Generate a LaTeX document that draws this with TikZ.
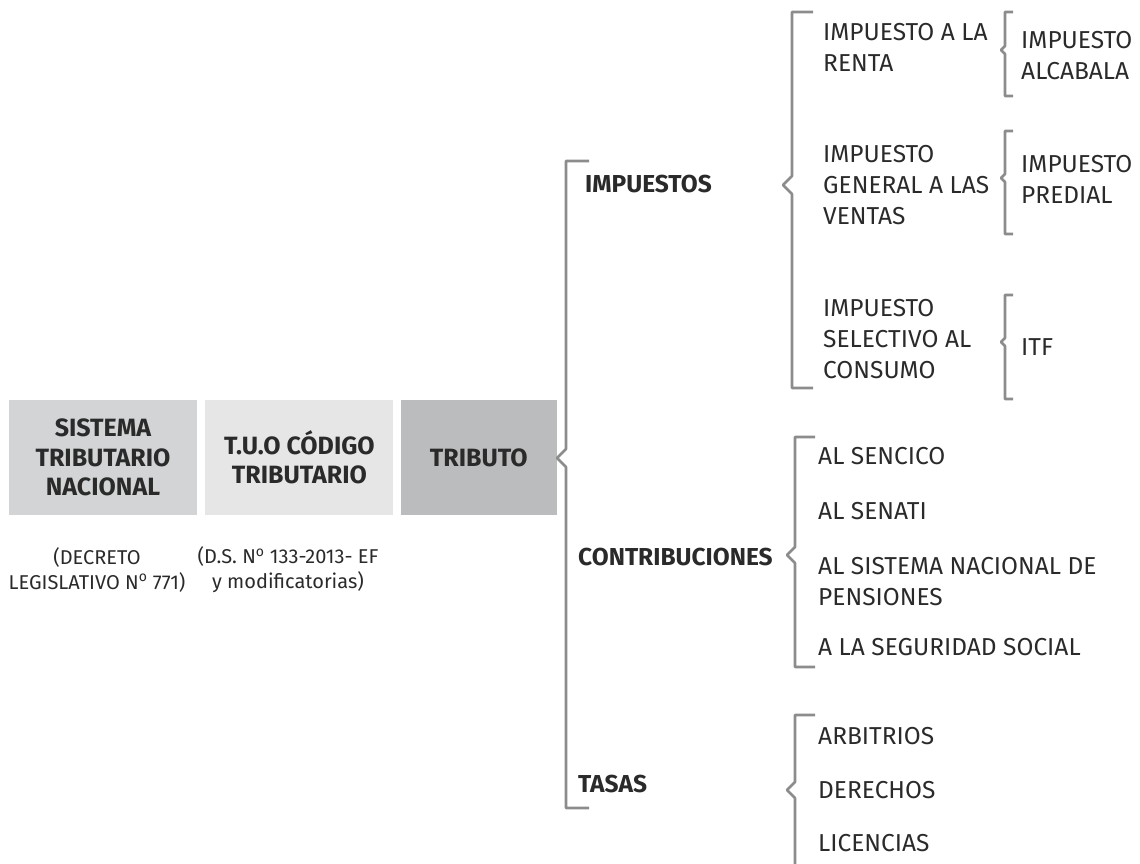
\documentclass[tikz,border=0pt]{standalone}
\usepackage{fontspec}
\setmainfont{Fira Sans}
\usetikzlibrary{positioning}
\definecolor{ink}{HTML}{2A2A2A}
\definecolor{rule}{HTML}{8C8C8C}
\definecolor{greyA}{HTML}{D3D4D6}
\definecolor{greyB}{HTML}{E6E6E7}
\definecolor{greyC}{HTML}{BBBCBE}
\tikzset{
    box/.style ={fill=#1, text=ink, minimum height=115pt, align=center, inner sep=0pt,
                 font=\bfseries\fontsize{25}{29.5}\selectfont},
    head/.style = {anchor=west, text=ink, inner sep=0pt, font=\bfseries\fontsize{24.5}{31}\selectfont},
    item/.style = {anchor=west, text=ink, inner sep=0pt, align=left, font=\fontsize{24.5}{31}\selectfont},
    note/.style = {text=ink, inner sep=0pt, align=center, font=\fontsize{20}{25}\selectfont},
    brk/.style = {draw=rule, line width=2.6pt, line join=round}
}
% x, top, bottom, notch y, tick length, notch depth
\newcommand{\bracketline}[6]{%
  \draw[brk] ({#1+#5},#2) -- (#1,#2) -- (#1,{#4-#6}) -- ({#1-#6},#4)
     -- (#1,{#4+#6}) -- (#1,#3) -- ({#1+#5},#3);}
\newcommand{\numero}{N\textsuperscript{o}}

\begin{document}
\begin{tikzpicture}[x=1pt,y=-1pt]
    \useasboundingbox (0,0) rectangle (1140,863);

    \node[box=greyA, minimum width=188pt] (sis) at (103,457.5) {SISTEMA\\TRIBUTARIO\\NACIONAL};
    \node[box=greyB, minimum width=188pt] (tuo) [right=8pt of sis] {T.U.O CÓDIGO\\TRIBUTARIO};
    \node[box=greyC, minimum width=156pt] (tri) [right=7pt of tuo] {TRIBUTO};
    \node[note] (decreto) at (97,570) {(DECRETO\\LEGISLATIVO \numero{} 771)};
    \node[note] (ds) at (288,570) {(D.S. \numero{} 133-2013- EF\\y modificatorias)};

    % tributo
    \bracketline{566}{161}{808}{458}{23}{9}
    \node[head] (imp) at (585,184) {IMPUESTOS};
    \node[head] (con) at (578,557) {CONTRIBUCIONES};
    \node[head] (tas) at (578,784) {TASAS};

    % impuestos
    \bracketline{792}{12}{388}{185}{21}{9}
    \node[item] (renta) at (823,47) {IMPUESTO A LA\\RENTA};
    \node[item] (igv) at (823,185) {IMPUESTO\\GENERAL A LAS\\VENTAS};
    \node[item] (isc) at (823,339) {IMPUESTO\\SELECTIVO AL\\CONSUMO};

    \bracketline{1005}{12}{96}{50}{8}{4}
    \bracketline{1005}{131}{234}{178}{8}{4}
    \bracketline{1005}{295}{399}{342}{8}{4}
    \node[item] (alcabala) at (1021,56) {IMPUESTO\\ALCABALA};
    \node[item] (predial) at (1021,179) {IMPUESTO\\PREDIAL};
    \node[item] (itf) at (1021,347) {ITF};

    % contribuciones
    \bracketline{795}{437}{667}{555}{20}{8}
    \node[item] (sencico) at (818,456) {AL SENCICO};
    \node[item] (senati) at (818,511) {AL SENATI};
    \node[item] (snp) at (818,581.5) {AL SISTEMA NACIONAL DE\\PENSIONES};
    \node[item] (social) at (818,647) {A LA SEGURIDAD SOCIAL};

    % tasas
    \bracketline{795}{715}{880}{790}{20}{8}
    \node[item] (arbitrios) at (818,736) {ARBITRIOS};
    \node[item] (derechos) at (818,790) {DERECHOS};
    \node[item] (licencias) at (818,843) {LICENCIAS};
\end{tikzpicture}
\end{document}
